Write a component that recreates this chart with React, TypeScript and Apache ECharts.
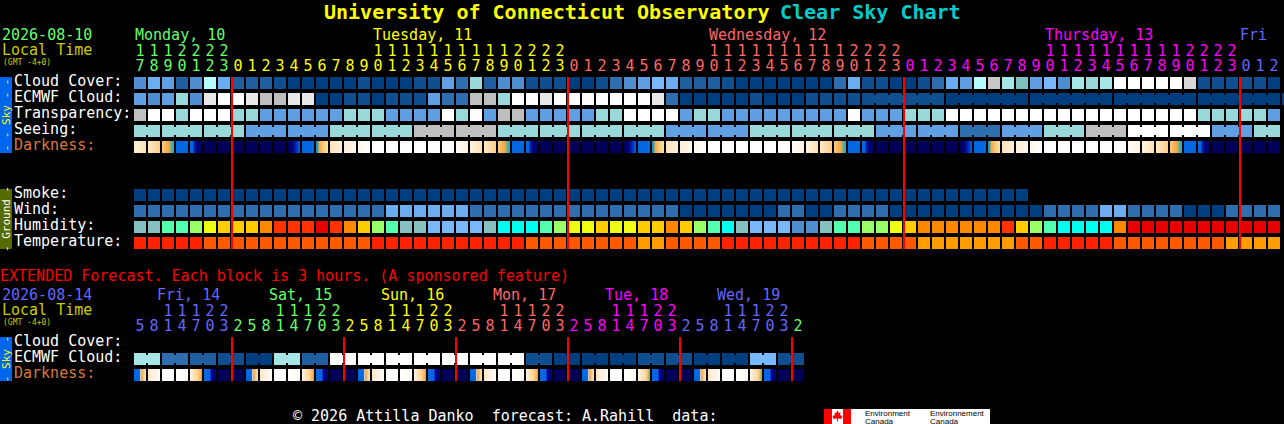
import React, { useEffect, useRef } from "react";
import * as echarts from "echarts";

const MONO = '"DejaVu Sans Mono", "Liberation Mono", monospace';

// ---- tick labels ----
const hourUnits = "7890123012345678901234567890123012345678901234567890123012345678901234567890123012".split("");
const hourTens = "1112222          11111111112222          11111111112222          11111111112222   ".split("");
const extUnits = "581470325814703258147032581470325814703258147032".split("");
const extTens = "  11122   11122   11122   11122   11122   11122 ".split("");
const skyRows = ["Cloud Cover:", "ECMWF Cloud:", "Transparency:", "Seeing:", "Darkness:"];
const groundRows = ["Smoke:", "Wind:", "Humidity:", "Temperature:"];
const extRows = ["Cloud Cover:", "ECMWF Cloud:", "Darkness:"];
const dayLabels = [
  { text: "Monday, 10", x: 135, c: "#66ff66" },
  { text: "Tuesday, 11", x: 373, c: "#ffff00" },
  { text: "Wednesday, 12", x: 709, c: "#ff6666" },
  { text: "Thursday, 13", x: 1045, c: "#ff00ff" },
  { text: "Fri", x: 1240, c: "#6666ff" },
];
const extDayLabels = [
  { text: "Fri, 14", x: 157, c: "#6666ff" },
  { text: "Sat, 15", x: 269, c: "#66ff66" },
  { text: "Sun, 16", x: 381, c: "#ffff00" },
  { text: "Mon, 17", x: 493, c: "#ff6666" },
  { text: "Tue, 18", x: 605, c: "#ff00ff" },
  { text: "Wed, 19", x: 717, c: "#6666ff" },
];
const dayColors = ["#66ff66", "#ffff00", "#ff6666", "#ff00ff", "#6666ff"];
const dayOfCol = (c: number) => (c < 7 ? 0 : c < 31 ? 1 : c < 55 ? 2 : c < 79 ? 3 : 4);
const extColors = ["#6666ff", "#66ff66", "#ffff00", "#ff6666", "#ff00ff", "#6666ff", "#66ff66"];
const extDayOfCol = (c: number) => (c < 7 ? 0 : Math.floor((c - 7) / 8) + 1);

// ---- series values (levels) ----
const cloudCover = "4 6 5 2 4 a 6 2 2 2 1 0 0 0 0 0 1 0 0 0 1 1 5 3 8 2 4 4 1 1 1 0 0 1 3 4 5 7 6 2 2 2 1 0 0 0 0 0 0 0 3 6 1 1 0 0 1 3 6 5 a h 9 t 5 7 4 9 8 9 w w w w w H 1 1 1 1 1 0".split(" ");
const ecmwfCloud = "5 4 5 8 4 i w w i g g i i 0 0 1 1 0 1 1 1 5 3 3 g g 8 w w i w w w w w w w i 3 0 0 0 0 0 1 0 0 0 1 1 1 1 1 1 1 1 1 1 0 0 0 0 0 0 0 0 0 0 0 0 0 0 0 0 0 0 0 0 0 0 0 0 0 0 0 0".split(" ");
const transparency = "g w w 8 w w w 8 8 5 5 5 5 5 5 8 8 8 5 5 5 5 w 8 w 5 g g 5 5 5 5 5 8 8 w w w w 5 8 8 5 5 5 5 5 5 5 5 5 w 5 5 5 8 8 8 w w w w w w w w w w w w w w w w w w 8 8 8 8 8 5".split(" ");
const seeing = "8 8 8 8 8 8 8 8 5 5 5 5 5 5 8 8 8 8 8 8 g g g g g g 8 8 8 8 8 8 8 8 8 8 8 8 5 5 5 5 5 5 8 8 8 8 8 8 8 8 8 5 5 5 5 5 5 3 3 3 5 5 5 8 8 8 g g g w w w w w w 5 5 5 8 8".split(" ");
const darkness = "b c d e f n n n n n n g e s p q r W W W W W W a b c d e f n n n n n n g e s p q r W W W W W W a b c d e f n n n n n n g e s p q r W W W W W W a b c d e f n n n n n".split(" ");
const smoke = "0 0 0 0 0 0 0 0 0 0 0 0 0 0 0 0 0 0 0 0 0 0 0 0 0 0 0 0 0 0 0 0 0 0 0 0 0 0 0 0 0 0 0 0 0 0 0 0 0 0 0 0 0 0 0 0 0 0 0 0 0 0 0 0".split(" ");
const wind = "3 3 3 3 3 3 3 3 3 3 3 3 3 3 3 3 3 3 6 6 6 6 6 6 3 3 3 3 3 3 3 3 3 3 3 3 3 3 3 0 0 0 0 0 0 0 3 3 0 0 3 3 3 3 0 0 0 0 0 0 0 0 0 0 0 3 3 3 3 6 6 3 3 3 3 0 0 0 3 3 3 3".split(" ");
const humidity = "T T m m l y o o o r R R R D R r o l m T T 7 7 7 7 T c c c m l y y o y y o o r o l m c T 7 7 7 4 4 T m m l l y o r r r r r r R o l m c c c c r D D D D D D D D D D D".split(" ");
const temperature = "R R R R R O O O O O O O O O O O O R R R R R R R R R R R O O O O O O O O A A O O O O R R R R R R R R R R O O O O A A A A A A A O O R R R R R O O O O O O O O A A A A".split(" ");
const extCloud: string[] = [];
const extEcmwf = "9 9 3 3 2 2 1 1 0 0 9 9 2 2 w w w w w w w w w w w w w w 1 1 0 0 0 0 0 0 1 1 1 1 0 0 0 0 7 7 1 1".split(" ");
const extDarkness = "u v W y x z n n u v W y x z n n u v W y x z n n u v W y x z n n u v W y X z n n u v W y X z n n".split(" ");
const midnightCols = [7, 31, 55, 79];
const extMidnightCols = [7, 15, 23, 31, 39, 47];

// ---- colour scales ----
const cloudColors: Record<string, string> = {
  "0": "#003f7f", "1": "#0f4f8f", "2": "#1f5f9f", "3": "#2e6eae", "4": "#4f8fcf", "5": "#5f9fe2",
  "6": "#6cadef", "7": "#78b8ff", "8": "#99d9d9", "9": "#a6e6e6", a: "#b6fcfc", t: "#7fbfbf",
  g: "#bfbfbf", h: "#c8c8c8", H: "#d8d8d8", i: "#e8e8e8", w: "#ffffff",
};
const humidityColors: Record<string, string> = {
  T: "#86c0c0", m: "#55ffb0", l: "#99ff66", y: "#eeff11", o: "#ffcc00", r: "#ff8800", R: "#ff3300",
  D: "#e60000", c: "#00ffee", "7": "#78b8f8", "4": "#4f8fcf",
};
const temperatureColors: Record<string, string> = { R: "#ff2200", O: "#ff5a00", A: "#ff9d00" };
const BLUE = "#0068e0", NAVY = "#000058";
const stops = (...p: [number, string][]) =>
  new echarts.graphic.LinearGradient(0, 0, 1, 0, p.map(([offset, color]) => ({ offset, color })));
const darkFills: Record<string, any> = {
  W: "#ffffff",
  n: NAVY,
  e: BLUE,
  a: stops([0, "#fffdf8"], [1, "#fff3e2"]),
  b: stops([0, "#fff2dc"], [1, "#fde2ba"]),
  c: stops([0, "#ffeacb"], [1, "#fccb85"]),
  d: stops([0, "#fbc87e"], [0.62, "#f5a53a"], [0.75, "#5fb59a"], [1, "#08a8e0"]),
  f: stops([0, BLUE], [0.22, BLUE], [0.32, "#0030b0"], [0.55, "#000088"], [1, NAVY]),
  g: stops([0, NAVY], [0.4, "#000080"], [0.7, "#0030c0"], [1, BLUE]),
  s: stops([0, "#0090d0"], [0.16, "#3aa0a0"], [0.25, "#f5a53a"], [0.6, "#fbc77a"], [1, "#fde0b0"]),
  p: stops([0, "#fde2ba"], [1, "#fff0da"]),
  q: stops([0, "#ffefd8"], [1, "#fff8ee"]),
  r: stops([0, "#fff8ee"], [1, "#ffffff"]),
  u: stops([0, BLUE], [0.48, BLUE], [0.52, "#cfe0ff"], [0.6, "#f5a53a"], [1, "#fde6c4"]),
  v: stops([0, "#ffe9cc"], [1, "#fffaf4"]),
  y: stops([0, "#ffffff"], [1, "#fffaf2"]),
  x: stops([0, "#fff3e0"], [0.6, "#fcd396"], [1, "#f5a53a"]),
  X: stops([0, "#fff3e0"], [0.7, "#fcd396"], [0.85, "#dcb060"], [1, "#40c0b0"]),
  z: stops([0, BLUE], [0.5, BLUE], [0.58, "#0000b0"], [1, NAVY]),
};

const CELL = 12;

// One series per row: each mark is placed by the grid's category axes.
function rowSeries(
  name: string,
  values: string[],
  colors: Record<string, any>,
  xIdx: number,
  yIdx: number,
  row: number,
  link?: { from: number; start: number; size: number }
) {
  return {
    type: "custom",
    name,
    xAxisIndex: xIdx,
    yAxisIndex: yIdx,
    silent: true,
    data: values.map((_, c) => [c, row]),
    renderItem: (params: any, api: any) => {
      const c = api.value(0);
      const [cx, cy] = api.coord([c, api.value(1)]);
      const x = Math.round(cx - CELL / 2);
      const y = Math.round(cy - CELL / 2);
      const fill = colors[values[params.dataIndex]];
      const children: any[] = [{ type: "rect", shape: { x, y, width: CELL, height: CELL }, style: { fill } }];
      if (link && c >= link.from && c + 1 < values.length && (c + 1 - link.start) % link.size !== 0) {
        children.push({ type: "rect", shape: { x: x + CELL, y: y + 2, width: 2, height: 8 }, style: { fill } });
      }
      return { type: "group", children };
    },
  };
}

function midnightSeries(name: string, cols: number[], xIdx: number, yIdx: number, height: number) {
  return {
    type: "custom",
    name,
    xAxisIndex: xIdx,
    yAxisIndex: yIdx,
    silent: true,
    z: 10,
    data: cols.map((c) => [c, 0]),
    renderItem: (_: any, api: any) => {
      const [cx, cy] = api.coord([api.value(0), api.value(1)]);
      const band = api.size([1, 0])[0];
      return {
        type: "rect",
        shape: { x: Math.round(cx - band / 2), y: Math.round(cy - CELL / 2), width: 2, height },
        style: { fill: "#ff0000" },
      };
    },
  };
}

const hourItem = (v: string, color: string) => ({
  value: v.trim(),
  textStyle: { color, fontFamily: MONO, fontSize: 15, align: "center", verticalAlign: "middle" },
});

const labelAxis = (data: any[], gridIndex: number, offset: number) => ({
  type: "category",
  gridIndex,
  position: "top",
  offset,
  data,
  axisLine: { show: false },
  axisTick: { show: false },
  splitLine: { show: false },
  axisLabel: {
    show: true,
    interval: 0,
    margin: 9,
    fontFamily: MONO,
    fontSize: 15,
    verticalAlign: "middle",
    hideOverlap: false,
  },
});

const hiddenX = (n: number, gridIndex: number) => ({
  type: "category",
  gridIndex,
  data: Array.from({ length: n }, (_, i) => i),
  show: false,
});

const rowAxis = (rows: string[], gridIndex: number) => ({
  type: "category",
  gridIndex,
  inverse: true,
  data: rows.map((r) => ({
    value: r,
    textStyle: {
      color: r === "Darkness:" ? "#d9793c" : "#ffffff",
      align: "left",
      verticalAlign: "bottom",
      lineHeight: 4,
      fontFamily: MONO,
      fontSize: 15,
    },
  })),
  axisLine: { show: false },
  axisTick: { show: false },
  splitLine: { show: false },
  axisLabel: {
    show: true,
    interval: 0,
    align: "left",
    verticalAlign: "bottom",
    lineHeight: 4,
    margin: 119,
    fontFamily: MONO,
    fontSize: 15,
  },
});

const txt = (text: string, x: number, y: number, fill: string, fontSize = 15, extra: any = {}) => ({
  type: "text",
  x,
  y,
  silent: true,
  style: { text, fill, fontFamily: MONO, fontSize, textVerticalAlign: "middle", ...extra },
});

const sideBar = (top: number, height: number, fill: string, label: string, color: string) => [
  { type: "rect", silent: true, shape: { x: 0, y: top, width: 12, height }, style: { fill } },
  {
    type: "text",
    x: 6,
    y: top + height / 2,
    rotation: Math.PI / 2,
    silent: true,
    style: { text: label, fill: color, fontFamily: MONO, fontSize: 11, textAlign: "center", textVerticalAlign: "middle" },
  },
];

const leaf: [number, number][] = [
  [837.5, 410.5], [839, 413], [840.5, 412.5], [840, 415.5], [841, 415], [842.5, 416.5], [841.5, 418], [842, 419],
  [838, 418.5], [838, 421.5], [837, 421.5], [837, 418.5], [833, 419], [833.5, 418], [832.5, 416.5], [834, 415], [835, 415.5], [834.5, 412.5], [836, 413],
];

const SANS = { fontFamily: '"Liberation Sans", sans-serif' };

export default function App() {
  const ref = useRef<HTMLDivElement>(null);
  useEffect(() => {
    document.body.style.margin = "0";
    document.body.style.background = "#000";
    const chart = echarts.init(ref.current!, undefined, { renderer: "svg" });
    chart.setOption({
      animation: false,
      backgroundColor: "#000000",
      tooltip: { show: false },
      title: [
        {
          text: "University of Connecticut Observatory",
          left: 324,
          top: 0,
          textStyle: { color: "#ffff00", fontFamily: MONO, fontSize: 20, fontWeight: "bold" },
          padding: [2, 0, 0, 0],
        },
        {
          text: "Clear Sky Chart",
          left: 780,
          top: 0,
          textStyle: { color: "#00cccc", fontFamily: MONO, fontSize: 20, fontWeight: "bold" },
          padding: [2, 0, 0, 0],
        },
      ],
      grid: [
        { left: 133, top: 75, width: 1148, height: 80, outerBoundsMode: "none" },
        { left: 133, top: 187, width: 1148, height: 64, outerBoundsMode: "none" },
        { left: 133, top: 335, width: 672, height: 48, outerBoundsMode: "none" },
      ],
      xAxis: [
        labelAxis(hourUnits.map((v, c) => hourItem(v, dayColors[dayOfCol(c)])), 0, 0),
        labelAxis(hourTens.map((v, c) => hourItem(v, dayColors[dayOfCol(c)])), 0, 15),
        hiddenX(82, 1),
        labelAxis(extUnits.map((v, c) => hourItem(v, extColors[extDayOfCol(c)])), 2, 0),
        labelAxis(extTens.map((v, c) => hourItem(v, extColors[extDayOfCol(c)])), 2, 15),
      ],
      yAxis: [rowAxis(skyRows, 0), rowAxis(groundRows, 1), rowAxis(extRows, 2)],
      series: [
        rowSeries("Cloud Cover", cloudCover, cloudColors, 0, 0, 0),
        rowSeries("ECMWF Cloud", ecmwfCloud, cloudColors, 0, 0, 1, { from: 52, start: 52, size: 6 }),
        rowSeries("Transparency", transparency, cloudColors, 0, 0, 2),
        rowSeries("Seeing", seeing, cloudColors, 0, 0, 3, { from: 0, start: 2, size: 3 }),
        rowSeries("Darkness", darkness, darkFills, 0, 0, 4),
        rowSeries("Smoke", smoke, cloudColors, 2, 1, 0),
        rowSeries("Wind", wind, cloudColors, 2, 1, 1),
        rowSeries("Humidity", humidity, humidityColors, 2, 1, 2),
        rowSeries("Temperature", temperature, temperatureColors, 2, 1, 3),
        rowSeries("Extended Cloud Cover", extCloud, cloudColors, 3, 2, 0),
        rowSeries("Extended ECMWF Cloud", extEcmwf, cloudColors, 3, 2, 1, { from: 0, start: 0, size: 2 }),
        rowSeries("Extended Darkness", extDarkness, darkFills, 3, 2, 2),
        midnightSeries("Midnight", midnightCols, 0, 0, 172),
        midnightSeries("Extended Midnight", extMidnightCols, 3, 2, 44),
      ],
      graphic: [
        txt("2026-08-10", 2, 35, "#66ff66"),
        txt("Local Time", 2, 50, "#cccc00"),
        txt("(GMT -4+0)", 3, 62, "#cccc00", 8),
        ...dayLabels.map((d) => txt(d.text, d.x, 35, d.c)),
        ...sideBar(77, 76, "#0066ee", "- - Sky - -", "#ffff00"),
        ...sideBar(189, 60, "#556b00", "- Ground -", "#ffffff"),
        txt("EXTENDED Forecast. Each block is 3 hours. (A sponsored feature)", 0, 276, "#ff0000"),
        txt("2026-08-14", 2, 295, "#6666ff"),
        txt("Local Time", 2, 310, "#cccc00"),
        txt("(GMT -4+0)", 3, 322, "#cccc00", 8),
        ...extDayLabels.map((d) => txt(d.text, d.x, 295, d.c)),
        ...sideBar(337, 44, "#0066ee", "- Sky -", "#ffff00"),
        txt("© 2026 Attilla Danko  forecast: A.Rahill  data:", 293, 416, "#ffffff"),
        { type: "rect", silent: true, shape: { x: 824, y: 409, width: 166, height: 15 }, style: { fill: "#ffffff" } },
        { type: "rect", silent: true, shape: { x: 824, y: 409, width: 8, height: 15 }, style: { fill: "#ff0000" } },
        { type: "rect", silent: true, shape: { x: 843, y: 409, width: 8, height: 15 }, style: { fill: "#ff0000" } },
        { type: "polygon", silent: true, shape: { points: leaf }, style: { fill: "#ff0000" } },
        txt("Environment", 865, 413, "#000000", 8, SANS),
        txt("Canada", 865, 421, "#000000", 8, SANS),
        txt("Environnement", 930, 413, "#000000", 8, SANS),
        txt("Canada", 930, 421, "#000000", 8, SANS),
      ],
    });
    return () => chart.dispose();
  }, []);
  return <div ref={ref} style={{ position: "fixed", left: 0, top: 0, width: 1284, height: 424, overflow: "hidden" }} />;
}
